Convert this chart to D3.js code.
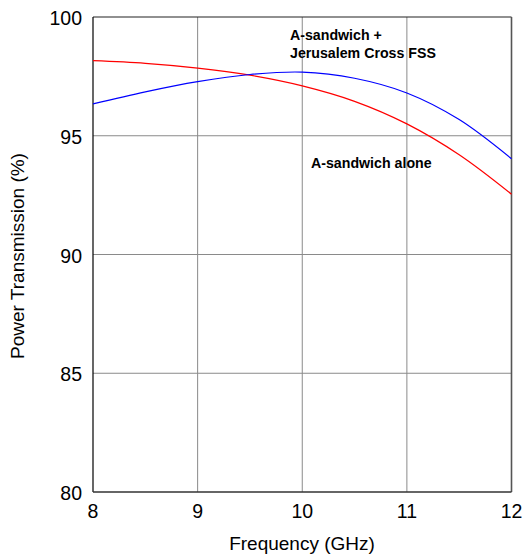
<!DOCTYPE html>
<html>
<head>
<meta charset="utf-8">
<script src="https://cdn.jsdelivr.net/npm/d3@7"></script>
<style>
  body { margin: 0; background: #fff; }
  svg { display: block; font-family: "Liberation Sans", Arial, sans-serif; }
</style>
</head>
<body>
<svg id="chart" width="523" height="554"></svg>
<script>
// frequency points (GHz) and transmission (%)
var freq = [8, 8.5, 9, 9.5, 10, 10.5, 11, 11.5, 12];
var fssValues = [96.34, 96.85, 97.28, 97.58, 97.68, 97.42, 96.80, 95.68, 94.03];
var aloneValues = [98.16, 98.05, 97.85, 97.55, 97.10, 96.45, 95.50, 94.20, 92.54];
var xTicks = [8, 9, 10, 11, 12];
var yTicks = [80, 85, 90, 95, 100];

// plot box (window.top is reserved, so use other names)
var plotLeft = 93, plotRight = 511.5, plotTop = 17, plotBottom = 492;
var svg = d3.select("#chart");

var x = d3.scaleLinear().domain([8, 12]).range([plotLeft, plotRight]);
var y = d3.scaleLinear().domain([80, 100]).range([plotBottom, plotTop]);

// grid
svg.append("g").selectAll("line")
    .data(xTicks.slice(1, -1)).enter().append("line")
    .attr("x1", d => x(d)).attr("x2", d => x(d))
    .attr("y1", plotTop).attr("y2", plotBottom)
    .style("stroke", "#8a8a8a").style("stroke-width", 1);
svg.append("g").selectAll("line")
    .data(yTicks.slice(1, -1)).enter().append("line")
    .attr("x1", plotLeft).attr("x2", plotRight)
    .attr("y1", d => y(d)).attr("y2", d => y(d))
    .style("stroke", "#8a8a8a").style("stroke-width", 1);

// frame
svg.append("line").attr("x1", plotLeft).attr("x2", plotRight).attr("y1", plotTop).attr("y2", plotTop)
    .style("stroke", "#222").style("stroke-width", 1.2);
svg.append("line").attr("x1", plotRight).attr("x2", plotRight).attr("y1", plotTop).attr("y2", plotBottom)
    .style("stroke", "#555").style("stroke-width", 1.6);
svg.append("line").attr("x1", plotLeft).attr("x2", plotLeft).attr("y1", plotTop).attr("y2", plotBottom)
    .style("stroke", "#000").style("stroke-width", 1.2);
svg.append("line").attr("x1", plotLeft).attr("x2", plotRight).attr("y1", plotBottom).attr("y2", plotBottom)
    .style("stroke", "#333").style("stroke-width", 1.6);

// curves
var line = d3.line().curve(d3.curveCatmullRom.alpha(0.5))
    .x((d, i) => x(freq[i])).y(d => y(d));
svg.append("path").datum(aloneValues).attr("d", line)
    .style("fill", "none").style("stroke", "#ff0000").style("stroke-width", 1.2);
svg.append("path").datum(fssValues).attr("d", line)
    .style("fill", "none").style("stroke", "#0000ff").style("stroke-width", 1.2);

// tick labels
svg.append("g").selectAll("text")
    .data(yTicks).enter().append("text")
    .attr("x", 82).attr("y", d => y(d) + 8)
    .attr("text-anchor", "end").style("font-size", "19.5px")
    .text(d => d);
svg.append("g").selectAll("text")
    .data(xTicks).enter().append("text")
    .attr("x", d => x(d)).attr("y", 518)
    .attr("text-anchor", "middle").style("font-size", "19.5px")
    .text(d => d);

// axis titles
svg.append("text").attr("x", 302).attr("y", 550)
    .attr("text-anchor", "middle").style("font-size", "19px")
    .text("Frequency (GHz)");
svg.append("text").attr("transform", "translate(24,256) rotate(-90)")
    .attr("text-anchor", "middle").style("font-size", "19px")
    .text("Power Transmission (%)");

// annotations
var ann = svg.append("g").style("font-size", "14.2px").style("font-weight", "bold");
ann.append("text").attr("x", 290).attr("y", 40).text("A-sandwich +");
ann.append("text").attr("x", 290).attr("y", 58).text("Jerusalem Cross FSS");
ann.append("text").attr("x", 311).attr("y", 168).text("A-sandwich alone");
</script>
</body>
</html>
